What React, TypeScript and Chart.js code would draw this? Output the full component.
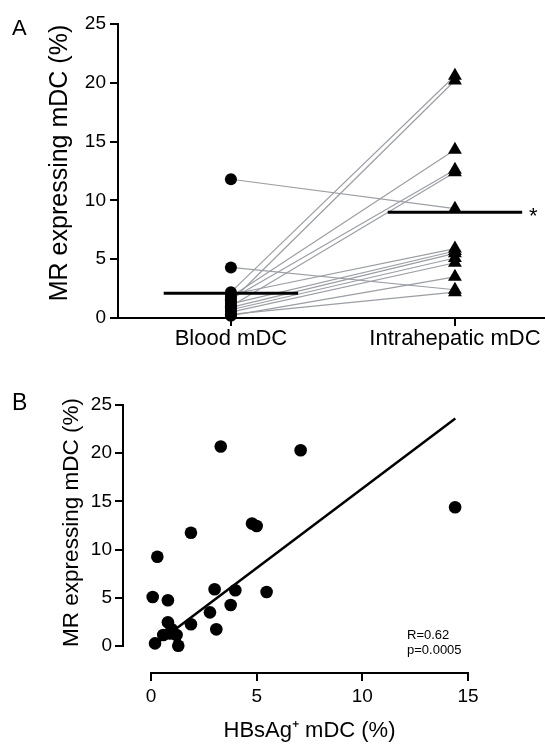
import React, { useEffect, useRef } from "react";
import { Chart, registerables } from "chart.js";
Chart.register(...registerables);

// ---------- Panel A data ----------
const groupLabels = ["Blood mDC", "Intrahepatic mDC"];
const bloodValues = [2.2, 1.4, 1.8, 1.6, 1.0, 11.8, 2.0, 1.2, 0.9, 0.7, 0.5, 0.2, 4.3, 0.3];
const intraValues = [20.6, 20.2, 14.3, 12.6, 12.4, 9.3, 5.9, 5.7, 5.5, 5.1, 4.7, 3.5, 2.4, 2.2];
const groupMeans = [2.1, 9.0];
const yTicksA = [0, 5, 10, 15, 20, 25];
const yTitleA = "MR expressing mDC (%)";

// ---------- Panel B data ----------
const hbsagX = [3.3, 7.08, 14.39, 4.78, 5.0, 1.89, 0.3, 0.08, 0.8, 3.01, 3.99, 5.47, 3.77, 2.79, 1.89, 3.09, 0.8, 0.58, 0.98, 1.21, 0.9, 0.19, 1.29];
const mrY = [20.7, 20.3, 14.4, 12.7, 12.45, 11.75, 9.26, 5.08, 4.74, 5.88, 5.78, 5.6, 4.25, 3.49, 2.25, 1.73, 2.46, 1.14, 1.73, 1.14, 1.3, 0.27, 0.03];
const fitX = [0.1, 14.4];
const fitY = [0.0, 23.6];
const xTicksB = [0, 5, 10, 15];
const yTicksB = [0, 5, 10, 15, 20, 25];
const statsText = ["R=0.62", "p=0.0005"];
const xTitleB = "HBsAg\u207A mDC (%)";
const yTitleB = "MR expressing mDC (%)";

const FONT = "'Liberation Sans', Arial, Helvetica, sans-serif";
const INK = "#000";
const GRAY = "#9b9ea6";

function drawVerticalTitle(ctx: any, text: string, x: number, y: number, size: number) {
  ctx.save();
  ctx.translate(x, y);
  ctx.rotate(-Math.PI / 2);
  ctx.font = `${size}px ${FONT}`;
  ctx.fillStyle = INK;
  ctx.textAlign = "center";
  ctx.textBaseline = "middle";
  ctx.fillText(text, 0, 0);
  ctx.restore();
}

const panelAPlugin = {
  id: "panelA",
  afterDraw(chart: any) {
    const { ctx, scales } = chart;
    const { x, y } = scales;
    ctx.save();
    ctx.fillStyle = INK;
    ctx.font = `22px ${FONT}`;
    ctx.textAlign = "left";
    ctx.textBaseline = "alphabetic";
    ctx.fillText("A", 12, 35);
    // significance star next to the intrahepatic mean
    const yp = y.getPixelForValue(groupMeans[1]);
    const xp = x.getPixelForValue(1.35);
    ctx.font = `22px ${FONT}`;
    ctx.textAlign = "center";
    ctx.fillText("*", xp, yp + 10.5);
    ctx.restore();
    const cy = (y.getPixelForValue(yTicksA[0]) + y.getPixelForValue(yTicksA[yTicksA.length - 1])) / 2 - 8;
    drawVerticalTitle(ctx, yTitleA, 60.5, cy, 25);
  },
};

const panelBPlugin = {
  id: "panelB",
  afterDraw(chart: any) {
    const { ctx, chartArea, scales } = chart;
    const { x, y } = scales;
    ctx.save();
    ctx.strokeStyle = INK;
    ctx.lineWidth = 2;
    ctx.beginPath();
    ctx.moveTo(chartArea.left, y.getPixelForValue(yTicksB[yTicksB.length - 1]) - 1);
    ctx.lineTo(chartArea.left, y.getPixelForValue(yTicksB[0]) + 1);
    ctx.moveTo(x.getPixelForValue(xTicksB[0]) - 1, chartArea.bottom);
    ctx.lineTo(x.getPixelForValue(xTicksB[xTicksB.length - 1]) + 1, chartArea.bottom);
    ctx.stroke();
    ctx.fillStyle = INK;
    ctx.font = `23px ${FONT}`;
    ctx.textAlign = "left";
    ctx.textBaseline = "alphabetic";
    ctx.fillText("B", 12, 40);
    ctx.font = `13px ${FONT}`;
    statsText.forEach((t, i) => ctx.fillText(t, 407, 269 + i * 15));
    // x title, centred on the 0..15 axis span
    const cx = (x.getPixelForValue(xTicksB[0]) + x.getPixelForValue(xTicksB[xTicksB.length - 1])) / 2;
    ctx.font = `22px ${FONT}`;
    ctx.textAlign = "center";
    ctx.textBaseline = "middle";
    ctx.fillText(xTitleB, cx, 361);
    ctx.restore();
    const cy = (y.getPixelForValue(yTicksB[0]) + y.getPixelForValue(yTicksB[yTicksB.length - 1])) / 2 - 3;
    drawVerticalTitle(ctx, yTitleB, 72, cy, 22.5);
  },
};

function tickSetter(values: number[]) {
  return (s: any) => {
    s.ticks = values.map((v) => ({ value: v }));
  };
}

function fixSize(prop: "width" | "height", size: number) {
  return (s: any) => {
    s[prop] = size;
    s.paddingLeft = 0;
    s.paddingRight = 0;
    s.paddingTop = 0;
    s.paddingBottom = 0;
  };
}

export default function App() {
  const refA = useRef<HTMLCanvasElement>(null);
  const refB = useRef<HTMLCanvasElement>(null);

  useEffect(() => {
    const pairSets = bloodValues.map((b, i) => ({
      data: [
        { x: 0, y: b },
        { x: 1, y: intraValues[i] },
      ],
      showLine: true,
      borderColor: GRAY,
      borderWidth: 1.2,
      pointRadius: 0,
      order: 3,
      clip: false as any,
    }));
    const meanSets = groupMeans.map((m, i) => ({
      data: [
        { x: i - 0.3, y: m },
        { x: i + 0.3, y: m },
      ],
      showLine: true,
      borderColor: INK,
      borderWidth: 3,
      pointRadius: 0,
      order: 1,
      clip: false as any,
    }));

    const chartA = new Chart(refA.current!, {
      type: "scatter",
      data: {
        datasets: [
          {
            data: bloodValues.map((v) => ({ x: 0, y: v })),
            pointStyle: "circle",
            pointRadius: 6,
            backgroundColor: INK,
            borderColor: INK,
            borderWidth: 0,
            order: 0,
            clip: false as any,
          },
          {
            data: intraValues.map((v) => ({ x: 1, y: v })),
            pointStyle: "triangle",
            pointRadius: 8,
            backgroundColor: INK,
            borderColor: INK,
            borderWidth: 0,
            order: 0,
            clip: false as any,
          },
          ...meanSets,
          ...pairSets,
        ] as any,
      },
      options: {
        responsive: false,
        animation: false,
        events: [],
        plugins: { legend: { display: false }, tooltip: { enabled: false } },
        layout: { autoPadding: false, padding: { top: 24, right: 0, left: 0, bottom: 0 } },
        scales: {
          x: {
            type: "linear",
            min: -0.504,
            max: 1.402,
            afterBuildTicks: tickSetter([0, 1]),
            afterFit: fixSize("height", 42),
            ticks: {
              callback: (v: any) => groupLabels[v as number],
              font: { size: 22, family: FONT },
              color: INK,
              padding: 0,
              maxRotation: 0,
              autoSkip: false,
            },
            grid: { drawOnChartArea: false, drawTicks: true, tickLength: 8, color: INK, lineWidth: 2 },
            border: { display: true, color: INK, width: 2 },
          },
          y: {
            type: "linear",
            min: 0,
            max: 25,
            afterBuildTicks: tickSetter(yTicksA),
            afterFit: fixSize("width", 118),
            ticks: { font: { size: 19, family: FONT }, color: INK, padding: 4 },
            grid: { drawOnChartArea: false, drawTicks: true, tickLength: 8, color: INK, lineWidth: 2 },
            border: { display: true, color: INK, width: 2 },
          },
        },
      } as any,
      plugins: [panelAPlugin],
    });

    const chartB = new Chart(refB.current!, {
      type: "scatter",
      data: {
        datasets: [
          {
            data: hbsagX.map((x, i) => ({ x, y: mrY[i] })),
            pointStyle: "circle",
            pointRadius: 6.3,
            backgroundColor: INK,
            borderColor: INK,
            borderWidth: 0,
            order: 0,
            clip: false as any,
          },
          {
            data: fitX.map((x, i) => ({ x, y: fitY[i] })),
            showLine: true,
            borderColor: INK,
            borderWidth: 2.5,
            pointRadius: 0,
            order: 1,
            clip: false as any,
          },
        ] as any,
      },
      options: {
        responsive: false,
        animation: false,
        events: [],
        plugins: { legend: { display: false }, tooltip: { enabled: false } },
        layout: { autoPadding: false, padding: { top: 35, right: 77, left: 0, bottom: 0 } },
        scales: {
          x: {
            type: "linear",
            min: -1.325,
            max: 15,
            afterBuildTicks: tickSetter(xTicksB),
            afterFit: fixSize("height", 71),
            ticks: { font: { size: 19, family: FONT }, color: INK, padding: 4, maxRotation: 0, autoSkip: false },
            grid: { drawOnChartArea: false, drawTicks: true, tickLength: 8, color: INK, lineWidth: 2 },
            border: { display: false },
          },
          y: {
            type: "linear",
            min: -2.8,
            max: 25,
            afterBuildTicks: tickSetter(yTicksB),
            afterFit: fixSize("width", 123),
            ticks: { font: { size: 19, family: FONT }, color: INK, padding: 3 },
            grid: { drawOnChartArea: false, drawTicks: true, tickLength: 8, color: INK, lineWidth: 2 },
            border: { display: false },
          },
        },
      } as any,
      plugins: [panelBPlugin],
    });

    return () => {
      chartA.destroy();
      chartB.destroy();
    };
  }, []);

  return (
    <div style={{ position: "absolute", left: 0, top: 0, width: 545, height: 744, background: "#fff" }}>
      <canvas ref={refA} width={545} height={360} style={{ position: "absolute", left: 0, top: 0, display: "block" }} />
      <canvas ref={refB} width={545} height={374} style={{ position: "absolute", left: 0, top: 370, display: "block" }} />
    </div>
  );
}
